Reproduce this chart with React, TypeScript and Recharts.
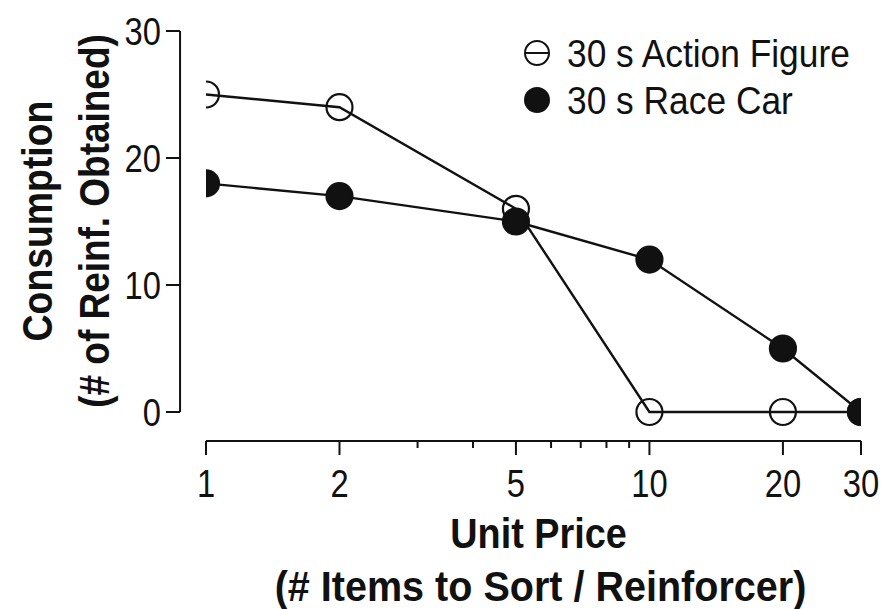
import React from 'react';
import { LineChart, Line, XAxis, YAxis, Legend, ReferenceLine } from 'recharts';

// unit price (log axis) and consumption per condition
const prices = [1, 2, 5, 10, 20, 30];
const actionFigure = [25, 24, 16, 0, 0, 0];
const raceCar = [18, 17, 15, 12, 5, 0];

const xTicks = [1, 2, 3, 4, 5, 6, 7, 8, 9, 10, 20, 30];
const xMajor = [1, 2, 5, 10, 20, 30];
const yTicks = [0, 10, 20, 30];

const SERIES = [
  { key: 'actionFigure', name: '30 s Action Figure', filled: false },
  { key: 'raceCar', name: '30 s Race Car', filled: true },
];

const INK = '#111';
const FONT = "'Liberation Sans', Arial, sans-serif";

const data = prices.map((p, i) => ({
  price: p,
  actionFigure: actionFigure[i],
  raceCar: raceCar[i],
}));

// condensed look: no narrow face installed, so squeeze horizontally
const NText = ({ x, y, sx = 0.84, rot = 0, anchor = 'start', children, ...rest }: any) => (
  <text
    transform={`translate(${x}, ${y})${rot ? ` rotate(${rot})` : ''} scale(${sx}, 1)`}
    textAnchor={anchor}
    fontFamily={FONT}
    fill={INK}
    {...rest}
  >
    {children}
  </text>
);

const XTick = (props: any) => {
  const { x, y, payload } = props;
  const major = xMajor.includes(payload.value);
  return (
    <g>
      <line x1={x} x2={x} y1={y} y2={y + (major ? 14 : 7)} stroke={INK} strokeWidth={2} />
      {major && (
        <NText x={x} y={y + 56} anchor="middle" fontSize={39}>
          {payload.value}
        </NText>
      )}
    </g>
  );
};

const YTick = (props: any) => {
  const { x, y, payload } = props;
  return (
    <g>
      <line x1={x} x2={x - 14} y1={y} y2={y} stroke={INK} strokeWidth={2} />
      <NText x={x - 19} y={y + 14} anchor="end" fontSize={39}>
        {payload.value}
      </NText>
    </g>
  );
};

const XTitle = (props: any) => {
  const { viewBox } = props;
  const cx = viewBox.x + viewBox.width / 2 + 5;
  return (
    <g fontWeight="bold">
      <NText x={cx} y={548} sx={0.9} anchor="middle" fontSize={42}>Unit Price</NText>
      <NText x={cx + 2} y={601} sx={0.92} anchor="middle" fontSize={43}>(# Items to Sort / Reinforcer)</NText>
    </g>
  );
};

const YTitle = () => {
  const cy = 221;
  return (
    <g fontWeight="bold">
      <NText x={52} y={cy} rot={-90} sx={0.89} anchor="middle" fontSize={42}>Consumption</NText>
      <NText x={109} y={cy} rot={-90} sx={0.88} anchor="middle" fontSize={42}>(# of Reinf. Obtained)</NText>
    </g>
  );
};

const LegendBox = () => (
  <svg width={383} height={130} style={{ display: 'block', overflow: 'visible' }}>
    {SERIES.map((s, i) => {
      const cy = 33 + i * 47;
      return (
        <g key={s.key}>
          <circle cx={37} cy={cy} r={12} fill={s.filled ? INK : 'none'} stroke={INK} strokeWidth={2} />
          {!s.filled && <line x1={25} x2={49} y1={cy} y2={cy} stroke={INK} strokeWidth={2} />}
          <NText x={67} y={cy + 14} sx={0.93} fontSize={38}>
            {s.name}
          </NText>
        </g>
      );
    })}
  </svg>
);

export default function App() {
  return (
    <div style={{ position: 'absolute', left: 0, top: 0, width: 883, height: 609, background: '#fff' }}>
      <LineChart width={883} height={609} data={data} margin={{ top: 31, right: 22, bottom: 108, left: 126 }}>
        <XAxis
          dataKey="price"
          type="number"
          scale="log"
          domain={[1, 30]}
          ticks={xTicks}
          interval={0}
          allowDataOverflow
          tickSize={0}
          tickMargin={0}
          tickLine={false}
          axisLine={{ stroke: INK, strokeWidth: 2 }}
          tick={<XTick />}
          height={60}
          label={<XTitle />}
        />
        <YAxis
          type="number"
          domain={[0, 30]}
          ticks={yTicks}
          interval={0}
          padding={{ top: 0, bottom: 29 }}
          tickSize={0}
          tickMargin={26}
          tickLine={false}
          axisLine={false}
          tick={<YTick />}
          width={80}
          label={<YTitle />}
        />
        <ReferenceLine
          segment={[{ x: 0.874, y: 0 }, { x: 0.874, y: 30 }]}
          ifOverflow="visible"
          stroke={INK}
          strokeWidth={2}
        />
        <Legend
          layout="vertical"
          align="center"
          verticalAlign="middle"
          wrapperStyle={{ left: 500, top: 20, width: 383 }}
          content={<LegendBox />}
        />
        {SERIES.map((s) => (
          <Line
            key={s.key}
            dataKey={s.key}
            name={s.name}
            type="linear"
            stroke={INK}
            strokeWidth={2.4}
            isAnimationActive={false}
            activeDot={false}
            dot={{ r: 13, fill: s.filled ? INK : 'none', stroke: INK, strokeWidth: 2.2 }}
          />
        ))}
      </LineChart>
    </div>
  );
}
